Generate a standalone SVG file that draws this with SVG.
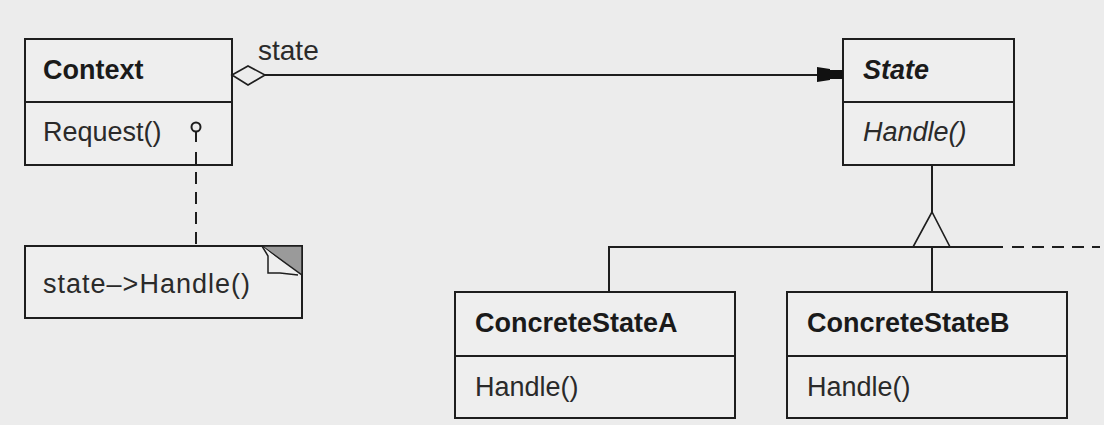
<svg xmlns="http://www.w3.org/2000/svg" width="1104" height="425" viewBox="0 0 1104 425">
<style>
.box{fill:#eeeeee;stroke:#1e1e1e;stroke-width:2}
.div{stroke:#1e1e1e;stroke-width:2}
.ln{stroke:#1e1e1e;stroke-width:2;fill:none}
.dash{stroke:#1e1e1e;stroke-width:2;fill:none;stroke-dasharray:12 8}
.t{font-family:"Liberation Sans",Arial,sans-serif;font-size:27px;fill:#2a2a2a}
.b{font-weight:bold;fill:#1a1a1a}
.i{font-style:italic}
</style>
<rect width="1104" height="425" fill="#ececec"/>
<g id="context">
  <rect class="box" x="25" y="39" width="207" height="126"/>
  <line class="div" x1="25" y1="102" x2="232" y2="102"/>
  <text class="t b" x="43" y="79">Context</text>
  <text class="t" x="43" y="141">Request()</text>
</g>
<g id="note">
  <rect class="box" x="25" y="246" width="277" height="72"/>
  <polygon points="262,246 302,246 302,275" fill="#9a9a9a" stroke="#1e1e1e" stroke-width="1.5"/>
  <path d="M262,246 L268,256 L268,273 L280,273 L298,275" fill="#eeeeee" stroke="#1e1e1e" stroke-width="1.5"/>
  <text class="t" x="43" y="293" textLength="207" lengthAdjust="spacing">state–&gt;Handle()</text>
</g>
<g id="state">
  <rect class="box" x="843" y="39" width="171" height="126"/>
  <line class="div" x1="843" y1="102" x2="1014" y2="102"/>
  <text class="t b i" x="863" y="79">State</text>
  <text class="t i" x="863" y="141">Handle()</text>
</g>
<g id="concreteStateA">
  <rect class="box" x="455" y="292" width="280" height="126"/>
  <line class="div" x1="455" y1="356" x2="735" y2="356"/>
  <text class="t b" x="475" y="332">ConcreteStateA</text>
  <text class="t" x="475" y="396">Handle()</text>
</g>
<g id="concreteStateB">
  <rect class="box" x="787" y="292" width="280" height="126"/>
  <line class="div" x1="787" y1="356" x2="1067" y2="356"/>
  <text class="t b" x="807" y="332">ConcreteStateB</text>
  <text class="t" x="807" y="396">Handle()</text>
</g>
<g id="connectors">
  <line class="ln" x1="265" y1="75" x2="818" y2="75"/>
  <polygon points="232,75 248,66 265,75 248,85" fill="#ececec" stroke="#1e1e1e" stroke-width="1.6"/>
  <polygon points="817,67 830,69 830,70 843,70 843,79 830,79 830,80 817,82" fill="#111"/>
  <text class="t" x="258" y="60" style="font-size:28px">state</text>
  <circle cx="196" cy="127" r="4.5" fill="#eeeeee" stroke="#1e1e1e" stroke-width="2"/>
  <line class="ln" x1="196" y1="131.5" x2="196" y2="142"/>
  <line class="dash" x1="196" y1="152" x2="196" y2="246"/>
  <line class="ln" x1="932" y1="165" x2="932" y2="212"/>
  <polygon points="932,212 913,247 950,247" fill="#ececec" stroke="#1e1e1e" stroke-width="1.6"/>
  <line class="ln" x1="609" y1="247" x2="1003" y2="247"/>
  <line class="dash" x1="1012" y1="247" x2="1100" y2="247"/>
  <line class="ln" x1="609" y1="246" x2="609" y2="292"/>
  <line class="ln" x1="932" y1="247" x2="932" y2="292"/>
</g>
</svg>
